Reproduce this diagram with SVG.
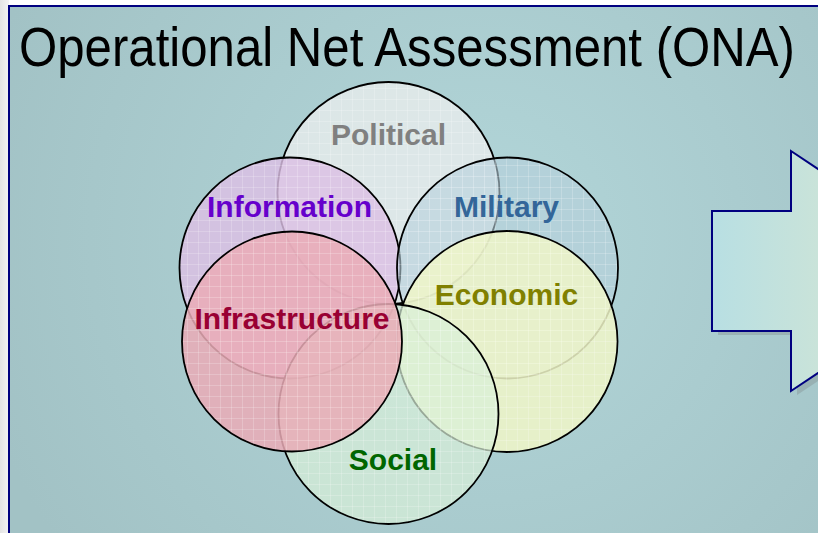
<svg xmlns="http://www.w3.org/2000/svg" width="818" height="533" viewBox="0 0 818 533">
<defs>
<radialGradient id="bg" cx="480" cy="240" r="520" gradientUnits="userSpaceOnUse">
<stop offset="0" stop-color="#b2d6d9"/>
<stop offset="1" stop-color="#a2c2c5"/>
</radialGradient>
<linearGradient id="side" x1="0" y1="0" x2="1" y2="0">
<stop offset="0" stop-color="#e4e4e4"/>
<stop offset="1" stop-color="#f4f4f4"/>
</linearGradient>
<linearGradient id="arrowFill" x1="712" y1="0" x2="818" y2="0" gradientUnits="userSpaceOnUse">
<stop offset="0" stop-color="#b8dfe3"/>
<stop offset="1" stop-color="#c9e3d9"/>
</linearGradient>
<pattern id="grid" width="11" height="11" patternUnits="userSpaceOnUse">
<path d="M0 0.5H11M0.5 0V11" stroke="#ffffff" stroke-opacity="0.2" stroke-width="1" fill="none"/>
</pattern>
<style>
.c{stroke:#000;stroke-width:1.8}
.g{fill:url(#grid);stroke:none}
.lbl{font-family:"Liberation Sans",Arial,sans-serif;font-weight:bold;font-size:30px;text-anchor:middle}
</style>
</defs>
<rect x="0" y="0" width="818" height="533" fill="#ffffff"/>
<rect x="0" y="0" width="9" height="533" fill="url(#side)"/>
<rect x="9" y="6" width="820" height="540" fill="url(#bg)" stroke="#000080" stroke-width="2"/>
<text transform="translate(19,66) scale(0.894,1)" x="0" y="0" font-family="&quot;Liberation Sans&quot;, Arial, sans-serif" font-size="55" fill="#000000">Operational Net Assessment (ONA)</text>
<g id="political">
<circle cx="388.5" cy="193" r="111" fill="#e8ecec" fill-opacity="0.8" class="c"/>
<circle cx="388.5" cy="193" r="110" class="g"/>
<text x="388.5" y="145" class="lbl" fill="#808080">Political</text>
</g>
<g id="information">
<circle cx="290" cy="268" r="110.5" fill="#dcbfe4" fill-opacity="0.82" class="c"/>
<circle cx="290" cy="268" r="109.5" class="g"/>
<text x="289.5" y="217" class="lbl" fill="#6600cc">Information</text>
</g>
<g id="military">
<circle cx="507.5" cy="268" r="110.5" fill="#b8d0dc" fill-opacity="0.6" class="c"/>
<circle cx="507.5" cy="268" r="109.5" class="g"/>
<text x="506.5" y="217" class="lbl" fill="#336699">Military</text>
</g>
<g id="economic">
<circle cx="507" cy="341.5" r="110.5" fill="#f0f6c8" fill-opacity="0.85" class="c"/>
<circle cx="507" cy="341.5" r="109.5" class="g"/>
<text x="506.5" y="305" class="lbl" fill="#808000">Economic</text>
</g>
<g id="social">
<circle cx="388.5" cy="414" r="110" fill="#d8f0d8" fill-opacity="0.7" class="c"/>
<circle cx="388.5" cy="414" r="109" class="g"/>
<text x="393" y="470" class="lbl" fill="#006600">Social</text>
</g>
<g id="infrastructure">
<circle cx="292" cy="341.5" r="110" fill="#eaabb6" fill-opacity="0.85" class="c"/>
<circle cx="292" cy="341.5" r="109" class="g"/>
<text x="292" y="329" class="lbl" fill="#990033">Infrastructure</text>
</g>
<g id="arrow">
<path d="M718 335 L797 335 L797 395 L977 275 L797 155 L797 215 L718 215 Z" fill="#8a9a9c" fill-opacity="0.5"/>
<path d="M712 331 L791 331 L791 391 L971 271 L791 151 L791 211 L712 211 Z" fill="url(#arrowFill)" stroke="#000080" stroke-width="2" stroke-linejoin="miter"/>
</g>
</svg>
